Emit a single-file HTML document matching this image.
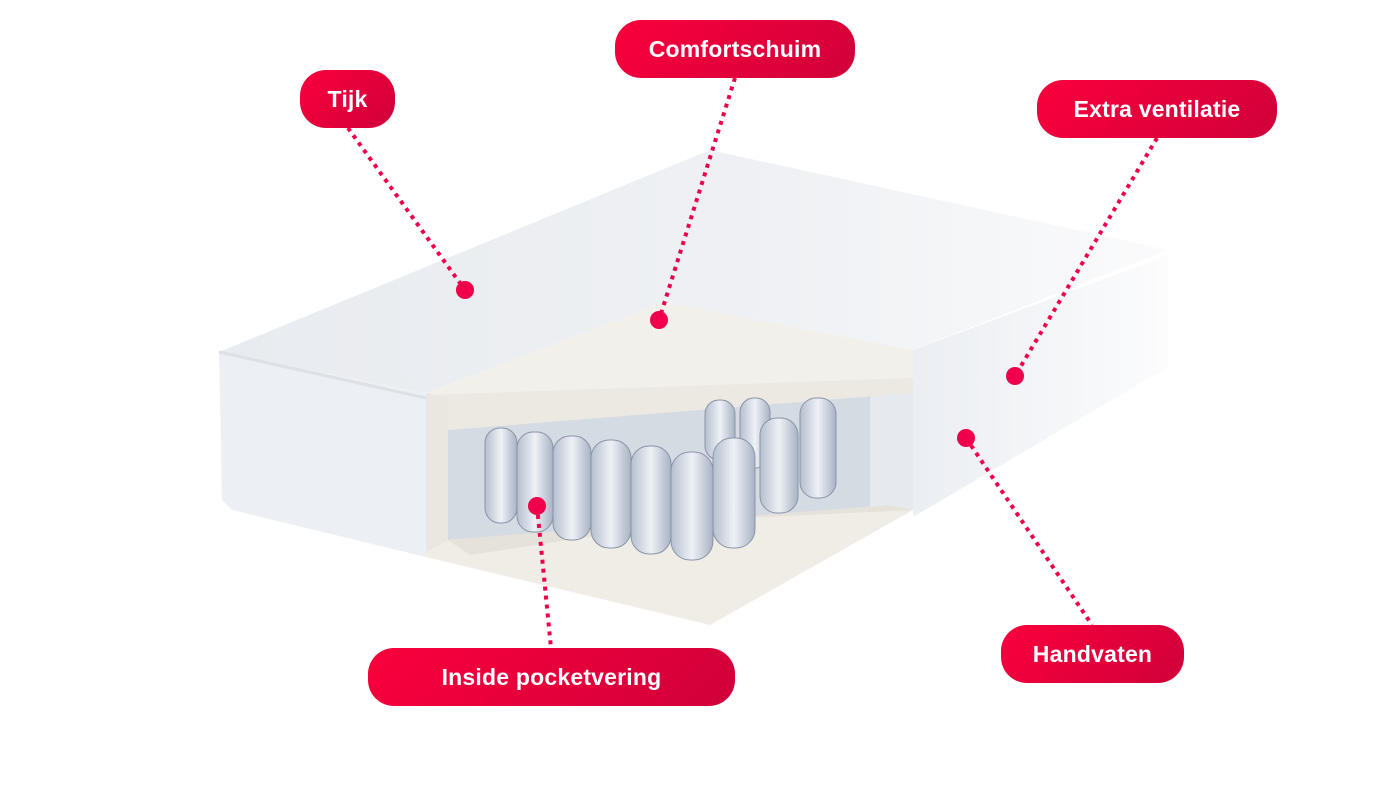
<!DOCTYPE html>
<html><head><meta charset="utf-8"><style>
body{margin:0;width:1380px;height:800px;background:#fff;position:relative;overflow:hidden;font-family:"Liberation Sans",sans-serif}
.pill{position:absolute;height:58px;border-radius:26px;background:linear-gradient(135deg,#fa003c,#d0003a);color:#fff;font-weight:bold;font-size:23px;display:flex;align-items:center;justify-content:center;letter-spacing:0.2px}
svg{position:absolute;left:0;top:0}
</style></head><body>
<svg width="1380" height="800">
<defs>
<linearGradient id="fade" x1="0" x2="1" y1="0" y2="0"><stop offset="0" stop-color="#e8ebef"/><stop offset="0.6" stop-color="#eff1f4"/><stop offset="1" stop-color="#fbfbfc"/></linearGradient>
<linearGradient id="side" x1="0" x2="1"><stop offset="0" stop-color="#ebeef2"/><stop offset="1" stop-color="#fcfcfd"/></linearGradient>
<linearGradient id="spr" x1="0" x2="1"><stop offset="0" stop-color="#b5bfcf"/><stop offset="0.5" stop-color="#eef1f6"/><stop offset="1" stop-color="#a9b3c4"/></linearGradient>
</defs>
<polygon points="219,352 710,150 1168,250 913,350 665,302 426,393" fill="url(#fade)"/>
<polygon points="913,350 1168,255 1168,367 913,517" fill="url(#side)"/>
<polygon points="219,352 426,393 426,557 232,510 222,500" fill="#eceff3"/>
<polyline points="219,352 426,398" stroke="#dde1e6" stroke-width="3" fill="none"/>
<polygon points="426,393 665,302 913,350 913,395 426,395" fill="#f2f0ea"/>
<polygon points="426,395 913,378 913,395 860,398 448,430 426,430" fill="#ebe9e2"/>
<polygon points="426,393 448,398 448,540 426,553" fill="#e9e7e0"/>
<polygon points="448,430 913,393 913,510 448,540" fill="#d5dbe3"/>
<polygon points="870,396 913,393 913,510 870,508" fill="#e6e9ee"/>
<polygon points="426,553 448,540 890,505 913,510 710,625 426,557" fill="#efede6"/>
<polygon points="448,540 890,505 913,510 700,520 470,555" fill="#e4e2da"/>
<g fill="url(#spr)" stroke="#8a94a6" stroke-width="1">
<rect x="705" y="400" width="30" height="60" rx="14"/>
<rect x="740" y="398" width="30" height="70" rx="14"/>
<rect x="800" y="398" width="36" height="100" rx="16"/>
<rect x="760" y="418" width="38" height="95" rx="17"/>
<rect x="485" y="428" width="32" height="95" rx="15"/>
<rect x="517" y="432" width="36" height="100" rx="16"/>
<rect x="553" y="436" width="38" height="104" rx="17"/>
<rect x="591" y="440" width="40" height="108" rx="18"/>
<rect x="631" y="446" width="40" height="108" rx="18"/>
<rect x="671" y="452" width="42" height="108" rx="19"/>
<rect x="713" y="438" width="42" height="110" rx="19"/>
</g>
<g stroke="#f0004a" stroke-width="4" stroke-dasharray="4 5" fill="none">
<line x1="348" y1="128" x2="465" y2="290"/>
<line x1="735" y1="78" x2="659" y2="320"/>
<line x1="1157" y1="138" x2="1015" y2="376"/>
<line x1="966" y1="438" x2="1092" y2="625"/>
<line x1="537" y1="506" x2="551" y2="648"/>
</g>
<g fill="#f0004a">
<circle cx="465" cy="290" r="9"/><circle cx="659" cy="320" r="9"/><circle cx="1015" cy="376" r="9"/><circle cx="966" cy="438" r="9"/><circle cx="537" cy="506" r="9"/>
</g>
</svg>
<div class="pill" style="left:300px;top:70px;width:95px">Tijk</div>
<div class="pill" style="left:615px;top:20px;width:240px">Comfortschuim</div>
<div class="pill" style="left:1037px;top:80px;width:240px">Extra ventilatie</div>
<div class="pill" style="left:1001px;top:625px;width:183px">Handvaten</div>
<div class="pill" style="left:368px;top:648px;width:367px">Inside pocketvering</div>
</body></html>
